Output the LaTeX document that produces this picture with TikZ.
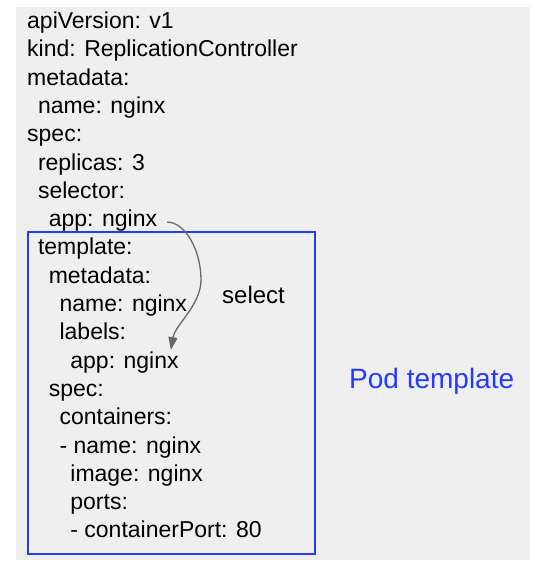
\documentclass[tikz,border=0pt]{standalone}
\usepackage{fontspec}
\setmainfont{Liberation Sans}
\usepackage{tikz}
\usetikzlibrary{positioning,arrows.meta,calc}
\usepackage{xcolor}
\definecolor{slidegray}{RGB}{239,239,239}
\definecolor{podblue}{RGB}{38,58,255}
\definecolor{arrowgray}{RGB}{105,105,105}

\begin{document}
\begin{tikzpicture}[
    x=1pt, y=-1pt,
    yamlline/.style={anchor=base west, inner sep=0pt, font=\fontsize{23}{27}\selectfont},
    selarrow/.style={draw=arrowgray, line width=1.3pt, -{Triangle[length=13pt, width=9pt]}}
]
\useasboundingbox (0,0) rectangle (540,570);

% Slide background
\fill[slidegray] (16,7) rectangle (530,560);

% YAML lines
\foreach \nm/\lvl/\txt [count=\i from 0] in {
    api/0/apiVersion: v1,
    kind/0/kind: ReplicationController,
    meta/0/metadata:,
    mname/1/name: nginx,
    spec/0/spec:,
    repl/1/replicas: 3,
    sel/1/selector:,
    sapp/2/app: nginx,
    tmpl/1/template:,
    tmeta/2/metadata:,
    tname/3/name: nginx,
    labels/3/labels:,
    lapp/4/app: nginx,
    tspec/2/spec:,
    cont/3/containers:,
    cname/3/- name: nginx,
    image/4/image: nginx,
    ports/4/ports:,
    cport/4/- containerPort: 80}
    \node[yamlline] (\nm) at ({27+10.8*\lvl}, {28.5+28.3*\i}) {\txt};

% Pod template box
\draw[podblue, line width=1.6pt] (28,232) rectangle (315,554);
\node[yamlline, text=podblue, font=\fontsize{28}{32}\selectfont] (podlbl) at (349,388) {Pod template};

% Selector arrow
\node[yamlline, font=\fontsize{24}{28}\selectfont] (sellbl) at (222,303) {select};
\coordinate (bend) at (201,280);
\draw[selarrow] ([xshift=10pt, yshift=4.5pt]sapp.base east) .. controls (185,222) and (201,250) .. (bend)
    .. controls (201,305) and (175,325) .. ([xshift=-8pt, yshift=18pt]lapp.base east);

\end{tikzpicture}
\end{document}
